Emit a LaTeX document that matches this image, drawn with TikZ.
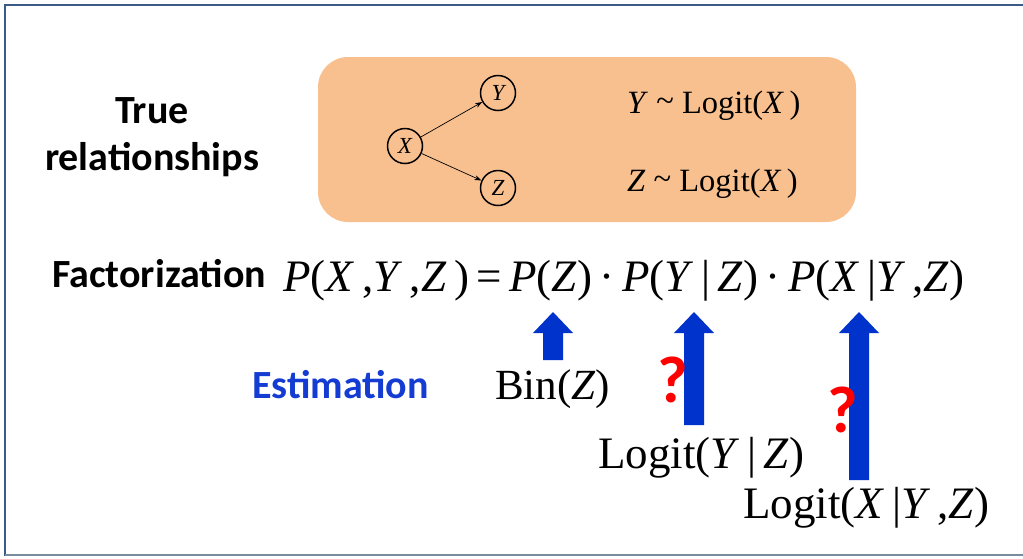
\documentclass[tikz,border=0pt]{standalone}
\usepackage{fontspec}
\setmainfont{Liberation Serif}
\newfontfamily\labelfont{Carlito}
\usetikzlibrary{arrows.meta}
\definecolor{peach}{RGB}{249,192,143}
\definecolor{frameblue}{RGB}{60,90,135}
\definecolor{framegray}{RGB}{120,140,160}
\definecolor{arrowblue}{RGB}{0,51,204}
\definecolor{estblue}{RGB}{20,60,210}
\newcommand{\iv}[1]{\textit{#1}}
\tikzset{
  lbl/.style={font=\labelfont\bfseries\fontsize{40}{47}\selectfont, inner sep=0pt},
  frm/.style={font=\fontsize{45}{54}\selectfont, inner sep=0pt, anchor=base west},
  sub/.style={font=\fontsize{45}{54}\selectfont, inner sep=0pt, anchor=base west},
  rel/.style={font=\fontsize{32.5}{38}\selectfont, inner sep=0pt, anchor=base west},
  var/.style={circle, draw=black, line width=1.5pt, minimum size=35pt, inner sep=0pt, font=\itshape\fontsize{23}{26}\selectfont},
  edge/.style={-{Stealth[length=7pt,width=5pt]}, line width=0.7pt},
  qm/.style={font=\labelfont\bfseries\fontsize{66}{72}\selectfont, text=red, inner sep=0pt},
  bigarrow/.style={fill=arrowblue, draw=none}
}
\begin{document}
\begin{tikzpicture}[x=1pt,y=-1pt]
\useasboundingbox (0,0) rectangle (1023,558);
% frame
\draw[frameblue, line width=2.5pt] (5,556) -- (5,5) -- (1023,5);
\draw[framegray, line width=2pt] (5,555) -- (1023,555);
% orange box
\node[fill=peach, rounded corners=30pt, minimum width=538pt, minimum height=165pt, inner sep=0pt] (box) at (587,139.5) {};
% graph
\node[var] (x) at (405,146) {X};
\node[var] (y) at (498,93) {Y};
\node[var] (z) at (498,188) {Z};
\draw[edge] (x) -- (y);
\draw[edge] (x) -- (z);
\node[rel] (ry) at (627,113) {\iv{Y} \raisebox{2pt}{\textasciitilde} Logit(\iv{X}\,)};
\node[rel] (rz) at (627,191) {\iv{Z} \raisebox{2pt}{\textasciitilde} Logit(\iv{X}\,)};
% labels
\node[lbl, align=center] (tr) at (152,137) {True\\relationships};
\node[lbl, anchor=base west] (fa) at (52,287) {Factorization};
\node[lbl, anchor=base west, text=estblue] (es) at (252,398) {Estimation};
% formula
\node[frm] (f) at (283,291) {\iv{P}(\iv{X}\,,\iv{Y}\,,\iv{Z}\,)\,=\,\iv{P}(\iv{Z})\,·\,\iv{P}(\iv{Y}\,|\,\iv{Z})\,·\,\iv{P}(\iv{X}\,|\iv{Y}\,,\iv{Z})};
% arrows
\coordinate (a1) at (553,312);
\coordinate (a2) at (694,312);
\coordinate (a3) at (859,312);
\fill[bigarrow] (a1) -- ++(20,21) -- ++(-10,0) -- ++(0,27) -- ++(-20,0) -- ++(0,-27) -- ++(-10,0) -- cycle;
\fill[bigarrow] (a2) -- ++(20,21) -- ++(-10,0) -- ++(0,92) -- ++(-20,0) -- ++(0,-92) -- ++(-10,0) -- cycle;
\fill[bigarrow] (a3) -- ++(20,21) -- ++(-10,0) -- ++(0,147) -- ++(-20,0) -- ++(0,-147) -- ++(-10,0) -- cycle;
% estimation texts
\node[sub, font=\fontsize{43}{50}\selectfont] (b) at (495,399) {Bin(\iv{Z})};
\node[sub] (l1) at (598,468) {Logit(\iv{Y}\,|\,\iv{Z})};
\node[sub] (l2) at (743,518) {Logit(\iv{X}\,|\iv{Y}\,,\iv{Z})};
\node[qm] (q1) at (673,380) {?};
\node[qm] (q2) at (843,410) {?};
\end{tikzpicture}
\end{document}
